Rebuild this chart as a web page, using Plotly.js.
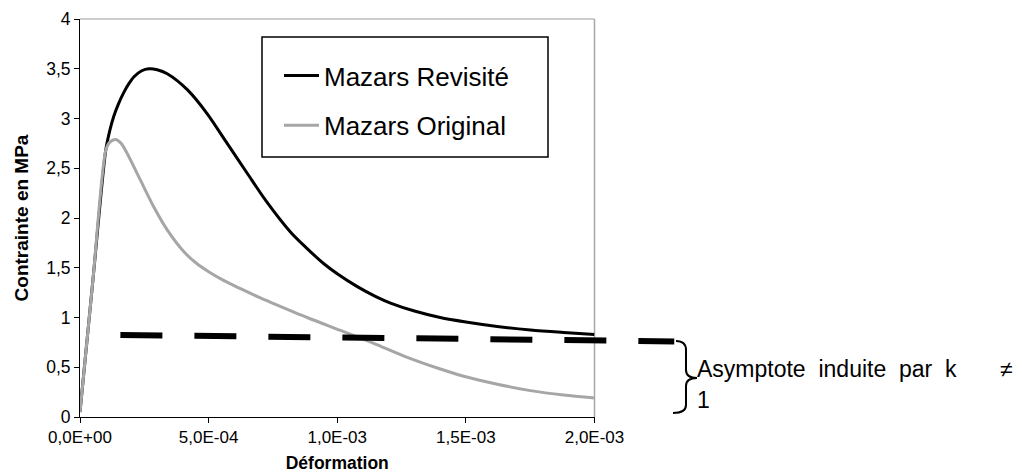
<!DOCTYPE html>
<html>
<head>
<meta charset="utf-8">
<script src="https://cdn.plot.ly/plotly-3.0.1.min.js"></script>
<style>
  html, body { margin: 0; padding: 0; background: #ffffff; }
  #chart { width: 1022px; height: 473px; }
</style>
</head>
<body>
<div id="chart"></div>
<script>
// ---- Data ----
const revName = "Mazars Revisité";
const revX = [0, 0.5e-4, 1.0e-4, 1.15e-4, 1.31e-4, 1.50e-4, 1.70e-4, 1.90e-4, 2.10e-4, 2.40e-4, 2.68e-4, 3.0e-4, 3.39e-4, 4.17e-4, 4.94e-4, 5.72e-4, 6.50e-4, 7.21e-4, 8.18e-4, 8.8e-4, 9.48e-4, 1.0e-3, 1.078e-3, 1.15e-3, 1.207e-3, 1.30e-3, 1.40e-3, 1.50e-3, 1.622e-3, 1.751e-3, 1.88e-3, 2.0e-3];
const revY = [0.05, 1.37, 2.68, 2.87, 3.02, 3.15, 3.26, 3.35, 3.42, 3.48, 3.50, 3.49, 3.45, 3.29, 3.05, 2.75, 2.45, 2.18, 1.86, 1.70, 1.54, 1.44, 1.31, 1.21, 1.145, 1.065, 1.00, 0.955, 0.91, 0.875, 0.85, 0.83];

const origName = "Mazars Original";
const origX = [0, 0.5e-4, 1.0e-4, 1.15e-4, 1.38e-4, 1.6e-4, 1.83e-4, 2.35e-4, 2.87e-4, 3.39e-4, 4.04e-4, 4.5e-4, 5.0e-4, 5.6e-4, 6.24e-4, 6.9e-4, 7.53e-4, 8.83e-4, 1.013e-3, 1.142e-3, 1.262e-3, 1.392e-3, 1.492e-3, 1.622e-3, 1.751e-3, 1.88e-3, 2.0e-3];
const origY = [0.05, 1.37, 2.68, 2.76, 2.79, 2.75, 2.65, 2.38, 2.11, 1.88, 1.66, 1.55, 1.46, 1.37, 1.29, 1.21, 1.14, 1.00, 0.87, 0.74, 0.61, 0.49, 0.41, 0.33, 0.265, 0.22, 0.19];

const asymX = [1.57e-4, 2.31e-3];
const asymY = [0.825, 0.76];

const xTickVals = [0, 5e-4, 1e-3, 1.5e-3, 2e-3];
const xTickText = ["0,0E+00", "5,0E-04", "1,0E-03", "1,5E-03", "2,0E-03"];
const yTickVals = [0, 0.5, 1, 1.5, 2, 2.5, 3, 3.5, 4];
const yTickText = ["0", "0,5", "1", "1,5", "2", "2,5", "3", "3,5", "4"];

const xTitle = "Déformation";
const yTitle = "Contrainte en MPa";
const annLine1 = "Asymptote\u00a0 induite\u00a0 par\u00a0 k";
const annNeq = "\u2260";
const annLine2 = "1";

// ---- Layout geometry ----
const W = 1022, H = 473;
const L = 80, R = 10, T = 19, B = 56;
const PW = W - L - R, PH = H - T - B;
const fx = p => (p - L) / PW;          // pixel x -> paper x
const fy = p => (T + PH - p) / PH;     // pixel y -> paper y
const xDomEnd = fx(594.5);
const xMax = 2e-3;

const FONT = "Liberation Sans, Arial, sans-serif";

const traces = [
  { x: revX, y: revY, name: revName, type: "scatter", mode: "lines",
    line: { color: "#000000", width: 3, shape: "spline", smoothing: 0.8 },
    legendgroup: "a", xaxis: "x", yaxis: "y" },
  { x: origX, y: origY, name: origName, type: "scatter", mode: "lines",
    line: { color: "#a6a6a6", width: 3, shape: "spline", smoothing: 0.8 },
    legendgroup: "b", xaxis: "x", yaxis: "y" },
  { x: asymX, y: asymY, name: "asymptote", type: "scatter", mode: "lines",
    line: { color: "#000000", width: 6, dash: "42px,32px" },
    showlegend: false, xaxis: "x2", yaxis: "y" }
];

function brace() {
  const P = (x, y) => fx(x).toFixed(5) + "," + fy(y).toFixed(5);
  return "M" + P(676, 341) + " Q" + P(686, 341) + " " + P(686, 350) +
         " L" + P(686, 370) + " Q" + P(686, 378) + " " + P(697, 378) +
         " Q" + P(686, 378) + " " + P(686, 386) +
         " L" + P(686, 405) + " Q" + P(686, 413) + " " + P(673, 413);
}

const layout = {
  width: W, height: H,
  margin: { l: L, r: R, t: T, b: B, pad: 0 },
  paper_bgcolor: "#ffffff", plot_bgcolor: "rgba(0,0,0,0)",
  font: { family: FONT, color: "#000000", size: 16 },
  showlegend: true,
  legend: {
    x: fx(279), y: fy(52), xanchor: "left", yanchor: "top",
    bgcolor: "rgba(0,0,0,0)", borderwidth: 0,
    font: { family: FONT, size: 26, color: "#000000" },
    traceorder: "grouped", tracegroupgap: 13, itemwidth: 35
  },
  xaxis: {
    domain: [0, xDomEnd], range: [0, xMax], anchor: "y",
    tickmode: "array", tickvals: xTickVals, ticktext: xTickText,
    ticks: "outside", ticklen: 5, tickwidth: 1, tickcolor: "#000000",
    showline: true, linecolor: "#000000", linewidth: 1,
    showgrid: false, zeroline: false,
    tickfont: { family: FONT, size: 17, color: "#000000" },
    title: { text: "<b>" + xTitle + "</b>", font: { family: FONT, size: 17.5, color: "#000000" }, standoff: 14 }
  },
  xaxis2: {
    domain: [0, 1], range: [0, xMax / xDomEnd], anchor: "y",
    visible: false, showgrid: false, zeroline: false
  },
  yaxis: {
    domain: [0, 1], range: [0, 4], anchor: "x",
    tickmode: "array", tickvals: yTickVals, ticktext: yTickText,
    ticks: "outside", ticklen: 5, tickwidth: 1, tickcolor: "#000000",
    showline: true, linecolor: "#000000", linewidth: 1,
    showgrid: false, zeroline: false,
    tickfont: { family: FONT, size: 17.5, color: "#000000" },
    title: { text: "<b>" + yTitle + "</b>", font: { family: FONT, size: 19, color: "#000000" }, standoff: 12 }
  },
  shapes: [
    { type: "line", xref: "paper", yref: "paper", x0: 0, x1: xDomEnd, y0: 1, y1: 1,
      line: { color: "#bdbdbd", width: 1.5 }, layer: "below" },
    { type: "line", xref: "paper", yref: "paper", x0: xDomEnd, x1: xDomEnd, y0: 0, y1: 1,
      line: { color: "#a8a8a8", width: 1.5 }, layer: "below" },
    { type: "rect", xref: "paper", yref: "paper", x0: fx(262), x1: fx(548), y0: fy(157), y1: fy(37),
      line: { color: "#000000", width: 1.5 }, fillcolor: "rgba(0,0,0,0)", layer: "above" },
    { type: "path", xref: "paper", yref: "paper", path: brace(),
      line: { color: "#000000", width: 2 }, layer: "above" }
  ],
  annotations: [
    { xref: "paper", yref: "paper", x: fx(695), y: fy(369), xanchor: "left", yanchor: "middle",
      text: annLine1, showarrow: false, font: { family: FONT, size: 23, color: "#000000" } },
    { xref: "paper", yref: "paper", x: fx(998), y: fy(369), xanchor: "left", yanchor: "middle",
      text: annNeq, showarrow: false, font: { family: FONT, size: 23, color: "#000000" } },
    { xref: "paper", yref: "paper", x: fx(695), y: fy(400), xanchor: "left", yanchor: "middle",
      text: annLine2, showarrow: false, font: { family: FONT, size: 23, color: "#000000" } }
  ]
};

Plotly.newPlot("chart", traces, layout, { staticPlot: true, displayModeBar: false });
</script>
</body>
</html>
